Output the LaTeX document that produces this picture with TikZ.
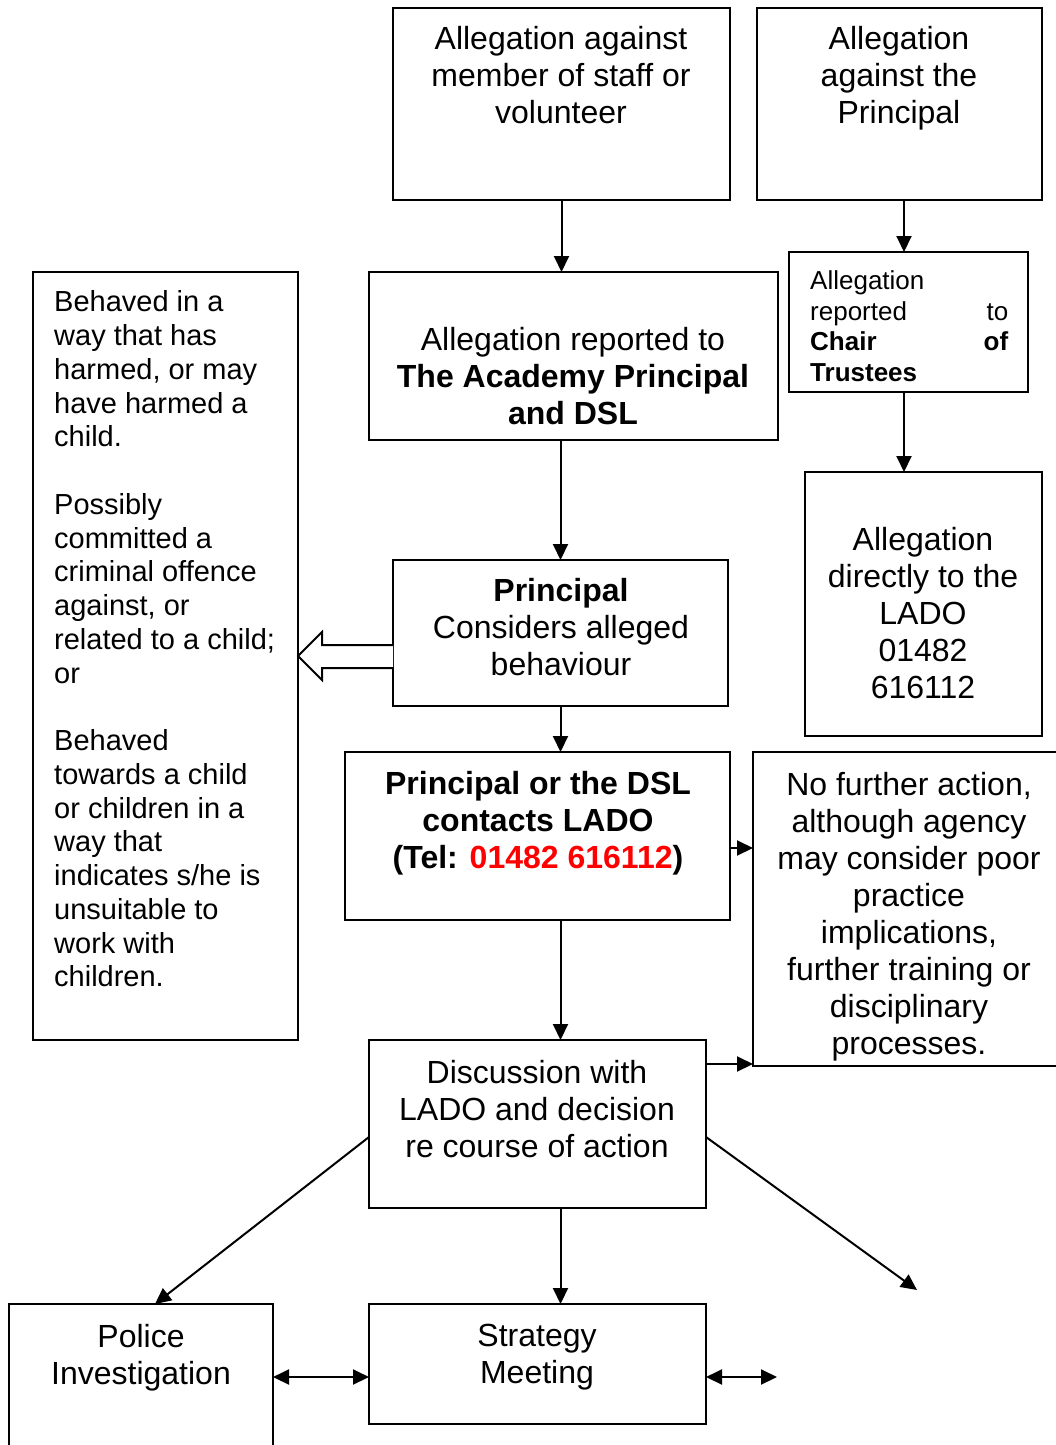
\documentclass[tikz,border=0pt]{standalone}
\usepackage{fontspec}
\setmainfont{Liberation Sans}
\usetikzlibrary{arrows.meta}
\tikzset{
  box/.style={draw, line width=2pt, inner sep=0pt, outer sep=0pt, anchor=north west},
  boxtext/.style={anchor=north, inner sep=0pt, align=center, execute at begin node=\strut},
  big/.style={font=\fontsize{32}{37}\selectfont},
  link/.style={line width=2pt, -{Triangle[length=16pt,width=15pt]}},
  twoway/.style={line width=2pt, {Triangle[length=16pt,width=15pt]}-{Triangle[length=16pt,width=15pt]}}
}
\begin{document}
\begin{tikzpicture}[x=1pt,y=-1pt]
\useasboundingbox (0,0) rectangle (1056,1445);
\clip (0,0) rectangle (1056,1445);

\node[box, minimum width=337pt, minimum height=192pt] (staff) at (393,8) {};
\node[box, minimum width=285pt, minimum height=192pt] (princ) at (757,8) {};
\node[box, minimum width=409pt, minimum height=168pt] (academy) at (369,272) {};
\node[box, minimum width=239pt, minimum height=140pt] (chair) at (789,252) {};
\node[box, minimum width=265pt, minimum height=768pt] (left) at (33,272) {};
\node[box, minimum width=335pt, minimum height=146pt] (considers) at (393,560) {};
\node[box, minimum width=237pt, minimum height=264pt] (ladodir) at (805,472) {};
\node[box, minimum width=385pt, minimum height=168pt] (contacts) at (345,752) {};
\node[box, minimum width=310pt, minimum height=314pt] (nofurther) at (753,752) {};
\node[box, minimum width=337pt, minimum height=168pt] (discussion) at (369,1040) {};
\node[box, minimum width=264pt, minimum height=170pt] (police) at (9,1304) {};
\node[box, minimum width=337pt, minimum height=120pt] (strategy) at (369,1304) {};

\node[boxtext, big] (staff-t) at (561,26.6) {Allegation against\\member of staff or\\volunteer};
\node[boxtext, big] (princ-t) at (899,26.6) {Allegation\\against the\\Principal};
\node[boxtext, big] (academy-t) at (573,327.6) {Allegation reported to\\\textbf{The Academy Principal}\\\textbf{and DSL}};
\node[boxtext, font=\fontsize{26}{30.5}\selectfont, anchor=north west, text width=198pt, align=left] (chair-t) at (810,268)
  {Allegation\\reported\hfill to\\\textbf{Chair\hfill of}\\\textbf{Trustees}};
\node[boxtext, font=\fontsize{29}{33.75}\selectfont, anchor=north west, align=left] (left-t) at (54,290.6)
  {Behaved in a\\way that has\\harmed, or may\\have harmed a\\child.\\[33.75pt]
   Possibly\\committed a\\criminal offence\\against, or\\related to a child;\\or\\[33.75pt]
   Behaved\\towards a child\\or children in a\\way that\\indicates s/he is\\unsuitable to\\work with\\children.};
\node[boxtext, big] (considers-t) at (561,578.6) {\textbf{Principal}\\Considers alleged\\behaviour};
\node[boxtext, big] (ladodir-t) at (923,527.6) {Allegation\\directly to the\\LADO\\01482\\616112};
\node[boxtext, big] (contacts-t) at (538,771.6) {\textbf{Principal or the DSL}\\\textbf{contacts LADO}\\\textbf{(Tel: \textcolor{red}{01482 616112})}};
\node[boxtext, big] (nofurther-t) at (909,771.6) {No further action,\\although agency\\may consider poor\\practice\\implications,\\further training or\\disciplinary\\processes.};
\node[boxtext, big] (discussion-t) at (537,1059.6) {Discussion with\\LADO and decision\\re course of action};
\node[boxtext, big] (police-t) at (141,1323.6) {Police\\Investigation};
\node[boxtext, big] (strategy-t) at (537,1323.6) {Strategy\\Meeting};

\coordinate (other) at (917,1290);
\coordinate (beyond) at (777,1377);

\draw[link] (staff.south) -- (staff.south |- academy.north);
\draw[link] ([xshift=4.5pt]princ.south) -- ([xshift=4.5pt]princ.south |- chair.north);
\draw[link] ([xshift=-4.5pt]chair.south) -- ([xshift=-4.5pt]chair.south |- ladodir.north);
\draw[link] (academy.south -| considers.north) -- (considers.north);
\draw[link] (considers.south) -- (considers.south |- contacts.north);
\draw[link] (contacts.south -| considers.south) -- (considers.south |- discussion.north);
\draw[link] ([yshift=-12pt]contacts.east) -- ([yshift=-12pt]contacts.east -| nofurther.west);
\draw[link] ([yshift=-24pt]discussion.north east) -- ([yshift=-24pt]discussion.north east -| nofurther.west);
\draw[link] (discussion.south -| considers.south) -- (considers.south |- strategy.north);
\draw[link] ([yshift=-13pt]discussion.west) -- ([xshift=14pt]police.north);
\draw[link] ([yshift=-13pt]discussion.east) -- (other);
\draw[twoway] ([yshift=-13pt]strategy.west -| police.east) -- ([yshift=-13pt]strategy.west);
\draw[twoway] ([yshift=-13pt]strategy.east) -- (beyond);

\draw[line width=2pt, fill=white] ([yshift=-12pt]considers.west) -- ++(-71,0) -- ++(0,-13)
  -- ++(-24,24) -- ++(24,24) -- ++(0,-12) -- ++(71,0);

\end{tikzpicture}
\end{document}
